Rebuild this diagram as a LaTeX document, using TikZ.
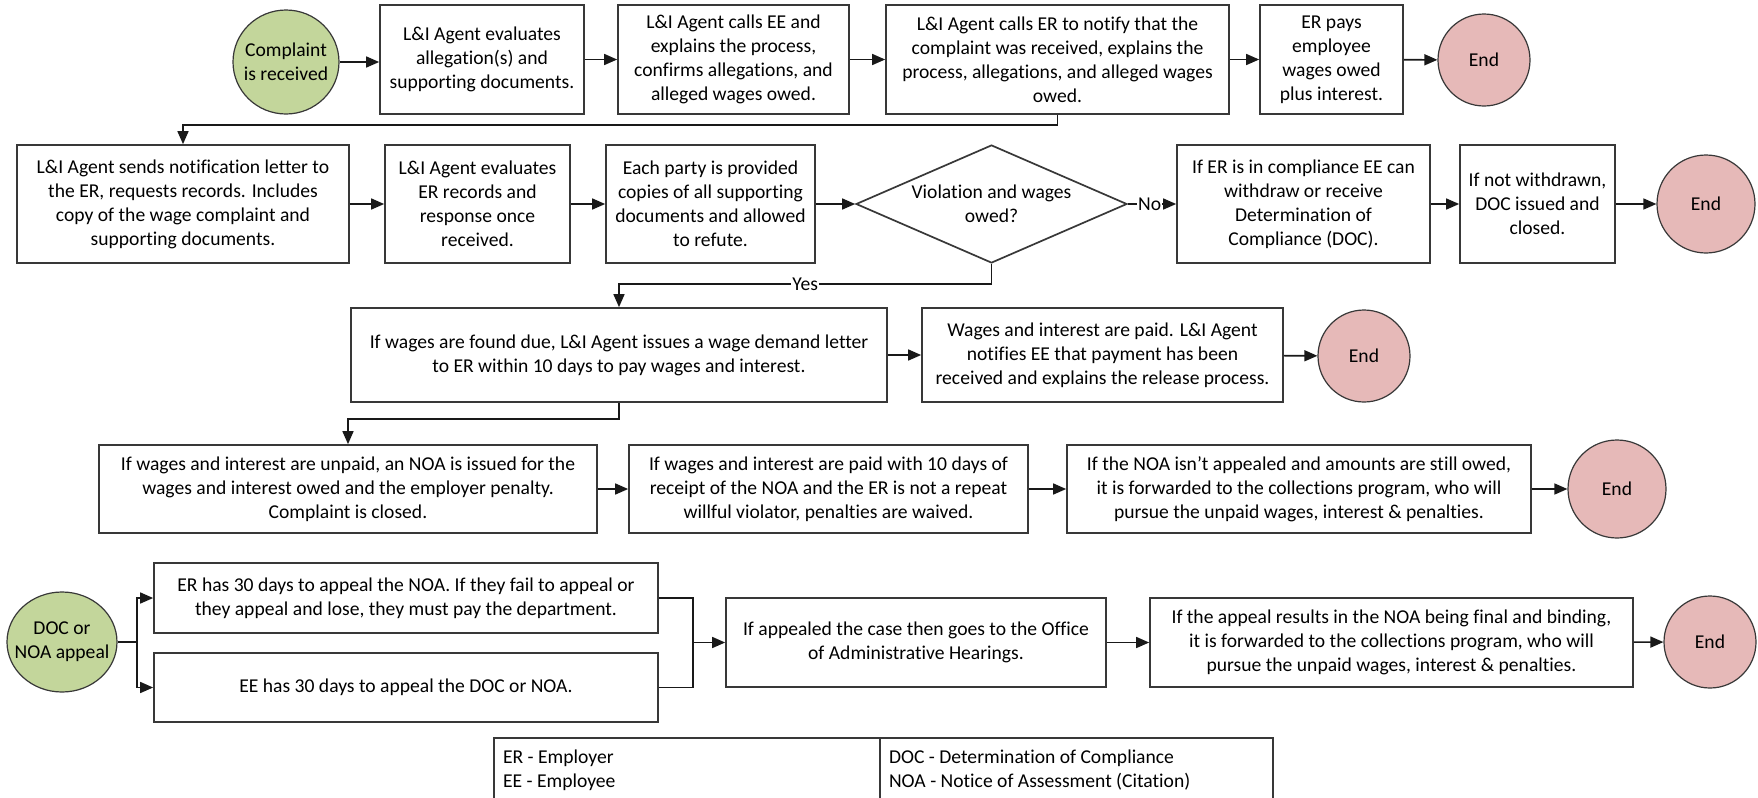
\documentclass[tikz,border=0pt]{standalone}
\usepackage{fontspec}
\setmainfont{Carlito}[Ligatures=NoCommon]
\usetikzlibrary{shapes.geometric,arrows.meta}
\definecolor{startgreen}{HTML}{C3D69B}
\definecolor{endpink}{HTML}{E6B9B8}
\definecolor{edgegray}{HTML}{383838}
\newcommand\mybox[6]{\node[box, minimum width={(#4-#2)*0.5pt}, minimum height={(#5-#3)*0.5pt}] (#1) at ({(#2+#4)/2},{(#3+#5)/2}) {#6};}
\tikzset{
  txt/.style={font=\fontsize{9.8}{12}\selectfont},
  box/.style={txt, draw=edgegray, line width=0.85pt, fill=white, align=center, inner sep=1pt},
  arr/.style={draw=black!90, line width=0.8pt, -{Triangle[length=6.5pt,width=5.5pt]}},
  ln/.style={draw=black!90, line width=0.8pt},
  endc/.style={ellipse, draw=edgegray, line width=0.6pt, fill=endpink, inner sep=0pt, label={[txt]center:End}},
  startc/.style={ellipse, draw=edgegray, line width=0.6pt, fill=startgreen, inner sep=0pt},
  lab/.style={txt, fill=white, inner sep=0.5pt},
}
\begin{document}
\begin{tikzpicture}[x=0.5pt,y=-0.5pt]
\useasboundingbox (0,0) rectangle (1758,798);
\fill[white] (0,0) rectangle (1758,798);

% Row 1
\node[startc, minimum width=53pt, minimum height=52pt, label={[txt, align=center]center:Complaint\\is received}] (c1) at (286,62) {};
\mybox{b1}{380}{5}{584}{114}{L\&I Agent evaluates\\allegation(s) and\\supporting documents.}
\mybox{b2}{618}{5}{849}{114}{L\&I Agent calls EE and\\explains the process,\\confirms allegations, and\\alleged wages owed.}
\mybox{b3}{886}{5}{1229}{114}{L\&I Agent calls ER to notify that the\\complaint was received, explains the\\process, allegations, and alleged wages\\owed.}
\mybox{b4}{1260}{5}{1403}{114}{ER pays\\employee\\wages owed\\plus interest.}
\node[endc, minimum width=46pt, minimum height=46pt] (e1) at (1484,60) {};

% Row 2
\mybox{bA}{17}{145}{349}{263}{L\&I Agent sends notification letter to\\the ER, requests records. Includes\\copy of the wage complaint and\\supporting documents.}
\mybox{bB}{385}{145}{570}{263}{L\&I Agent evaluates\\ER records and\\response once\\received.}
\mybox{bC}{606}{145}{815}{263}{Each party is provided\\copies of all supporting\\documents and allowed\\to refute.}
\node[diamond, draw=edgegray, line width=0.85pt, fill=white, aspect=2.3, minimum width=135.5pt, minimum height=59pt, inner sep=0pt, align=center, txt] (d) at (991.5,204) {Violation and wages\\owed?};
\mybox{bD}{1177}{145}{1430}{263}{If ER is in compliance EE can\\withdraw or receive\\Determination of\\Compliance (DOC).}
\mybox{bE}{1460}{145}{1615}{263}{If not withdrawn,\\DOC issued and\\closed.}
\node[endc, minimum width=49pt, minimum height=49pt] (e2) at (1706,204) {};

% Row 3
\mybox{bF}{351}{308}{887}{402}{If wages are found due, L\&I Agent issues a wage demand letter\\to ER within 10 days to pay wages and interest.}
\mybox{bG}{922}{308}{1283}{402}{Wages and interest are paid. L\&I Agent\\notifies EE that payment has been\\received and explains the release process.}
\node[endc, minimum width=46pt, minimum height=46pt] (e3) at (1364,356) {};

% Row 4
\mybox{bH}{99}{445}{597}{533}{If wages and interest are unpaid, an NOA is issued for the\\wages and interest owed and the employer penalty.\\Complaint is closed.}
\mybox{bI}{629}{445}{1028}{533}{If wages and interest are paid with 10 days of\\receipt of the NOA and the ER is not a repeat\\willful violator, penalties are waived.}
\mybox{bJ}{1067}{445}{1531}{533}{If the NOA isn’t appealed and amounts are still owed,\\it is forwarded to the collections program, who will\\pursue the unpaid wages, interest \& penalties.}
\node[endc, minimum width=49pt, minimum height=49pt] (e4) at (1617,489) {};

% Row 5
\node[startc, minimum width=55pt, minimum height=50pt, label={[txt, align=center]center:DOC or\\NOA appeal}] (c2) at (62,642) {};
\mybox{bK}{154}{563}{658}{633}{ER has 30 days to appeal the NOA. If they fail to appeal or\\they appeal and lose, they must pay the department.}
\mybox{bL}{154}{653}{658}{722}{EE has 30 days to appeal the DOC or NOA.}
\mybox{bM}{726}{598}{1106}{687}{If appealed the case then goes to the Office\\of Administrative Hearings.}
\mybox{bN}{1150}{598}{1633}{687}{If the appeal results in the NOA being final and binding,\\it is forwarded to the collections program, who will\\pursue the unpaid wages, interest \& penalties.}
\node[endc, minimum width=46pt, minimum height=46pt] (e5) at (1710,642) {};

% Connectors row 1
\draw[arr] (c1.east) -- (c1.east -| b1.west);
\draw[arr] (b1) -- (b2);
\draw[arr] (b2) -- (b3);
\draw[arr] (b3) -- (b4);
\draw[arr] (b4) -- (e1);
\draw[arr] (b3.south) -- ++(0,10) -| (bA.north);

% Connectors row 2
\draw[arr] (bA) -- (bB);
\draw[arr] (bB) -- (bC);
\draw[arr] (bC) -- (d);
\draw[arr] (d.east) -- node[lab, pos=0.45] (no) {No} (bD.west);
\draw[arr] (bD) -- (bE);
\draw[arr] (bE) -- (e2);
\draw[ln] (d.south) -- ++(0,20) coordinate (y1);
\draw[arr] (y1) -- node[lab, pos=0.5] (yes) {Yes} (y1 -| bF.north) -- (bF.north);

% Row 3
\draw[arr] (bF) -- (bG);
\draw[arr] (bG) -- (e3);
\draw[arr] (bF.south) -- ++(0,16) -| (bH.north);

% Row 4
\draw[arr] (bH) -- (bI);
\draw[arr] (bI) -- (bJ);
\draw[arr] (bJ) -- (e4);

% Row 5
\coordinate (f1) at (137,642);
\draw[ln] (c2.east) -- (f1);
\draw[arr] (f1) |- (bK.west);
\draw[arr] (f1) |- (bL.west);
\coordinate (j1) at (693,642.5);
\draw[ln] (bK.east) -| (j1);
\draw[ln] (bL.east) -| (j1);
\draw[arr] (j1) -- (bM.west);
\draw[arr] (bM) -- (bN);
\draw[arr] (bN) -- (e5);

% Legend
\draw[ln, draw=edgegray] (494,815) -- (494,738) -- (1273,738) -- (1273,815);
\draw[ln, draw=edgegray] (880,738) -- (880,815);
\node[txt, anchor=west, align=left] (lg1) at (496,770) {ER - Employer\\EE - Employee};
\node[txt, anchor=west, align=left] (lg2) at (882,770) {DOC - Determination of Compliance\\NOA - Notice of Assessment (Citation)};
\end{tikzpicture}
\end{document}
